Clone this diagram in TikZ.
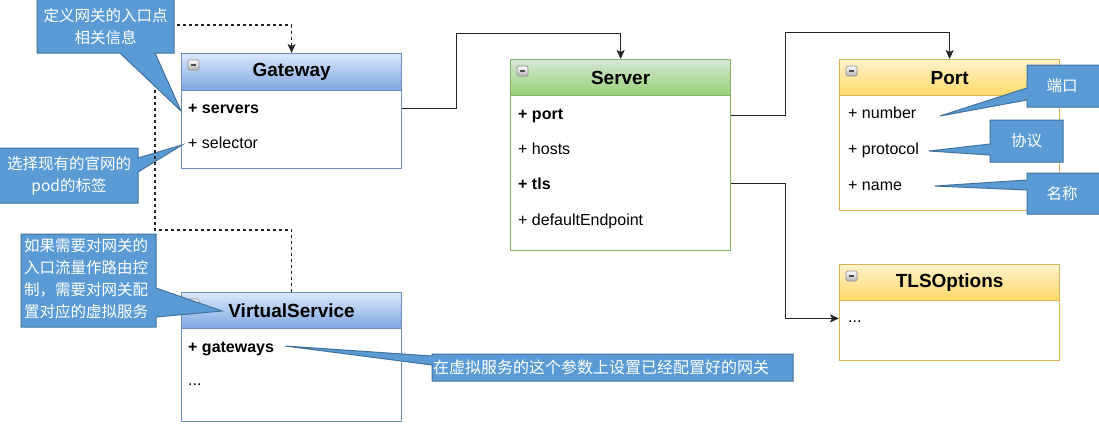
\documentclass[tikz,border=0pt]{standalone}
\usepackage{fontspec}
\newfontfamily\uifont{Liberation Sans}
\newfontfamily\cjkfont{Noto Sans CJK SC}
\usetikzlibrary{arrows.meta}

\definecolor{gwline}{HTML}{6C8EBF}
\definecolor{gwtop}{HTML}{DAE8FC}
\definecolor{gwbot}{HTML}{7EA6E0}
\definecolor{svline}{HTML}{82B366}
\definecolor{svtop}{HTML}{D5E8D4}
\definecolor{svbot}{HTML}{97D077}
\definecolor{ptline}{HTML}{D6B656}
\definecolor{pttop}{HTML}{FFF2CC}
\definecolor{ptbot}{HTML}{FFD966}
\definecolor{notefill}{HTML}{5B9BD5}
\definecolor{noteline}{HTML}{41719C}

\tikzset{
  classhead/.style={draw=#1line, top color=#1top, bottom color=#1bot, line width=1.2,
    minimum width=220, minimum height=36, inner sep=0, anchor=north west,
    font=\uifont\bfseries\fontsize{19}{22}\selectfont},
  classbody/.style={draw=#1line, fill=white, line width=1.2, minimum width=220,
    inner sep=0, anchor=north west},
  item/.style={anchor=base west, inner sep=0, font=\uifont\fontsize{16}{18}\selectfont},
  link/.style={draw=black!85, line width=1.1, -{Stealth[length=9pt,width=8pt,inset=2pt]}},
  dashlink/.style={link, dash pattern=on 3pt off 3pt},
  notebox/.style={fill=notefill, draw=noteline, line width=1},
  notetext/.style={text=white, inner sep=0, align=center,
    font=\cjkfont\fontsize{15.5}{22}\selectfont},
  fold/.pic={
    \draw[draw=black!45, top color=white, bottom color=black!30, rounded corners=1.5pt,
      line width=0.7] (0,0) rectangle (11,10);
    \draw[black!70, line width=1.4] (3,5) -- (8,5);
  }
}

\begin{document}
\begin{tikzpicture}[x=1pt, y=-1pt]
\useasboundingbox (0,0) rectangle (1099,423);

% classes
\node[classbody=gw, minimum height=78] (gw-body) at (181,90) {};
\node[classhead=gw, minimum height=37] (gw-head) at (181,53) {Gateway};
\node[classbody=sv, minimum height=155] (sv-body) at (510,95) {};
\node[classhead=sv] (sv-head) at (510,59) {Server};
\node[classbody=pt, minimum height=115] (pt-body) at (839,95) {};
\node[classhead=pt] (pt-head) at (839,59) {Port};
\node[classbody=pt, minimum height=60] (tl-body) at (839,300) {};
\node[classhead=pt] (tl-head) at (839,264) {TLSOptions};
\node[classbody=gw, minimum height=93] (vs-body) at (181,328) {};
\node[classhead=gw] (vs-head) at (181,292) {VirtualService};

\node[item] (gw-servers) at (188,113) {\textbf{+ servers}};
\node[item] (gw-selector) at (188,148) {+ selector};
\node[item] (sv-port) at (518,119) {\textbf{+ port}};
\node[item] (sv-hosts) at (518,154) {+ hosts};
\node[item] (sv-tls) at (518,189) {\textbf{+ tls}};
\node[item] (sv-endpoint) at (518,225) {+ defaultEndpoint};
\node[item] (pt-number) at (848,118) {+ number};
\node[item] (pt-protocol) at (848,154) {+ protocol};
\node[item] (pt-name) at (848,190) {+ name};
\node[item] (tl-dots) at (848,322) {\strut ...};
\node[item] (vs-gateways) at (188,352) {\textbf{+ gateways}};
\node[item] (vs-dots) at (188,385) {\strut ...};

\foreach \c in {gw,sv,pt,tl,vs}
  \pic at ([shift={(7,7)}]\c-head.north west) {fold};

% note on selector, under the dashed link
\draw[notebox] (-1,148) -- (138,148) -- (138,158) -- (182,145) -- (138,172) -- (138,203) -- (-1,203) -- cycle;
\node[notetext] (sel-note) at (69,176) {选择现有的官网的\\pod的标签};

% links
\draw[dashlink] (vs-head.north) -- ++(0,-62) -| (155,25) -| (gw-head.north);
\draw[link] (gw-body.east |- gw-servers) -- ++(54,0) -- ++(0,-75) -| (sv-head.north);
\draw[link] (sv-body.east |- sv-port) -- ++(54,0) -- ++(0,-83) -| (pt-head.north);
\draw[link] (sv-body.east |- sv-tls) -- ++(54,0) |- (tl-body.west |- tl-dots);

% notes
\draw[notebox] (37,-1) -- (174,-1) -- (174,53) -- (155,53) -- (181,111) -- (120,53) -- (37,53) -- cycle;
\node[notetext] (gw-note) at (105.5,26.5) {定义网关的入口点\\相关信息};

\draw[notebox] (21,234) -- (156,234) -- (156,288) -- (222,311) -- (156,317) -- (156,327) -- (21,327) -- cycle;
\node[notetext] (vs-note) at (86,279) {如果需要对网关的\\入口流量作路由控\\制，需要对网关配\\置对应的虚拟服务};

\draw[notebox] (432,354) -- (793,354) -- (793,381) -- (432,381) -- (432,365) -- (285,346) -- (432,356) -- cycle;
\node[notetext, anchor=west, font=\cjkfont\fontsize{16}{20}\selectfont] (gws-note) at (433,367.5) {在虚拟服务的这个参数上设置已经配置好的网关};

\draw[notebox] (1027,65) -- (1100,65) -- (1100,107) -- (1027,107) -- (1027,100) -- (940,116) -- (1027,88) -- cycle;
\node[notetext] (num-note) at (1062,86) {端口};
\draw[notebox] (990,120) -- (1063,120) -- (1063,162) -- (990,162) -- (990,155) -- (929,151) -- (990,144) -- cycle;
\node[notetext] (proto-note) at (1026.5,141) {协议};
\draw[notebox] (1027,173) -- (1100,173) -- (1100,214) -- (1027,214) -- (1027,190) -- (935,186) -- (1027,180) -- cycle;
\node[notetext] (name-note) at (1062,193.5) {名称};
\end{tikzpicture}
\end{document}
